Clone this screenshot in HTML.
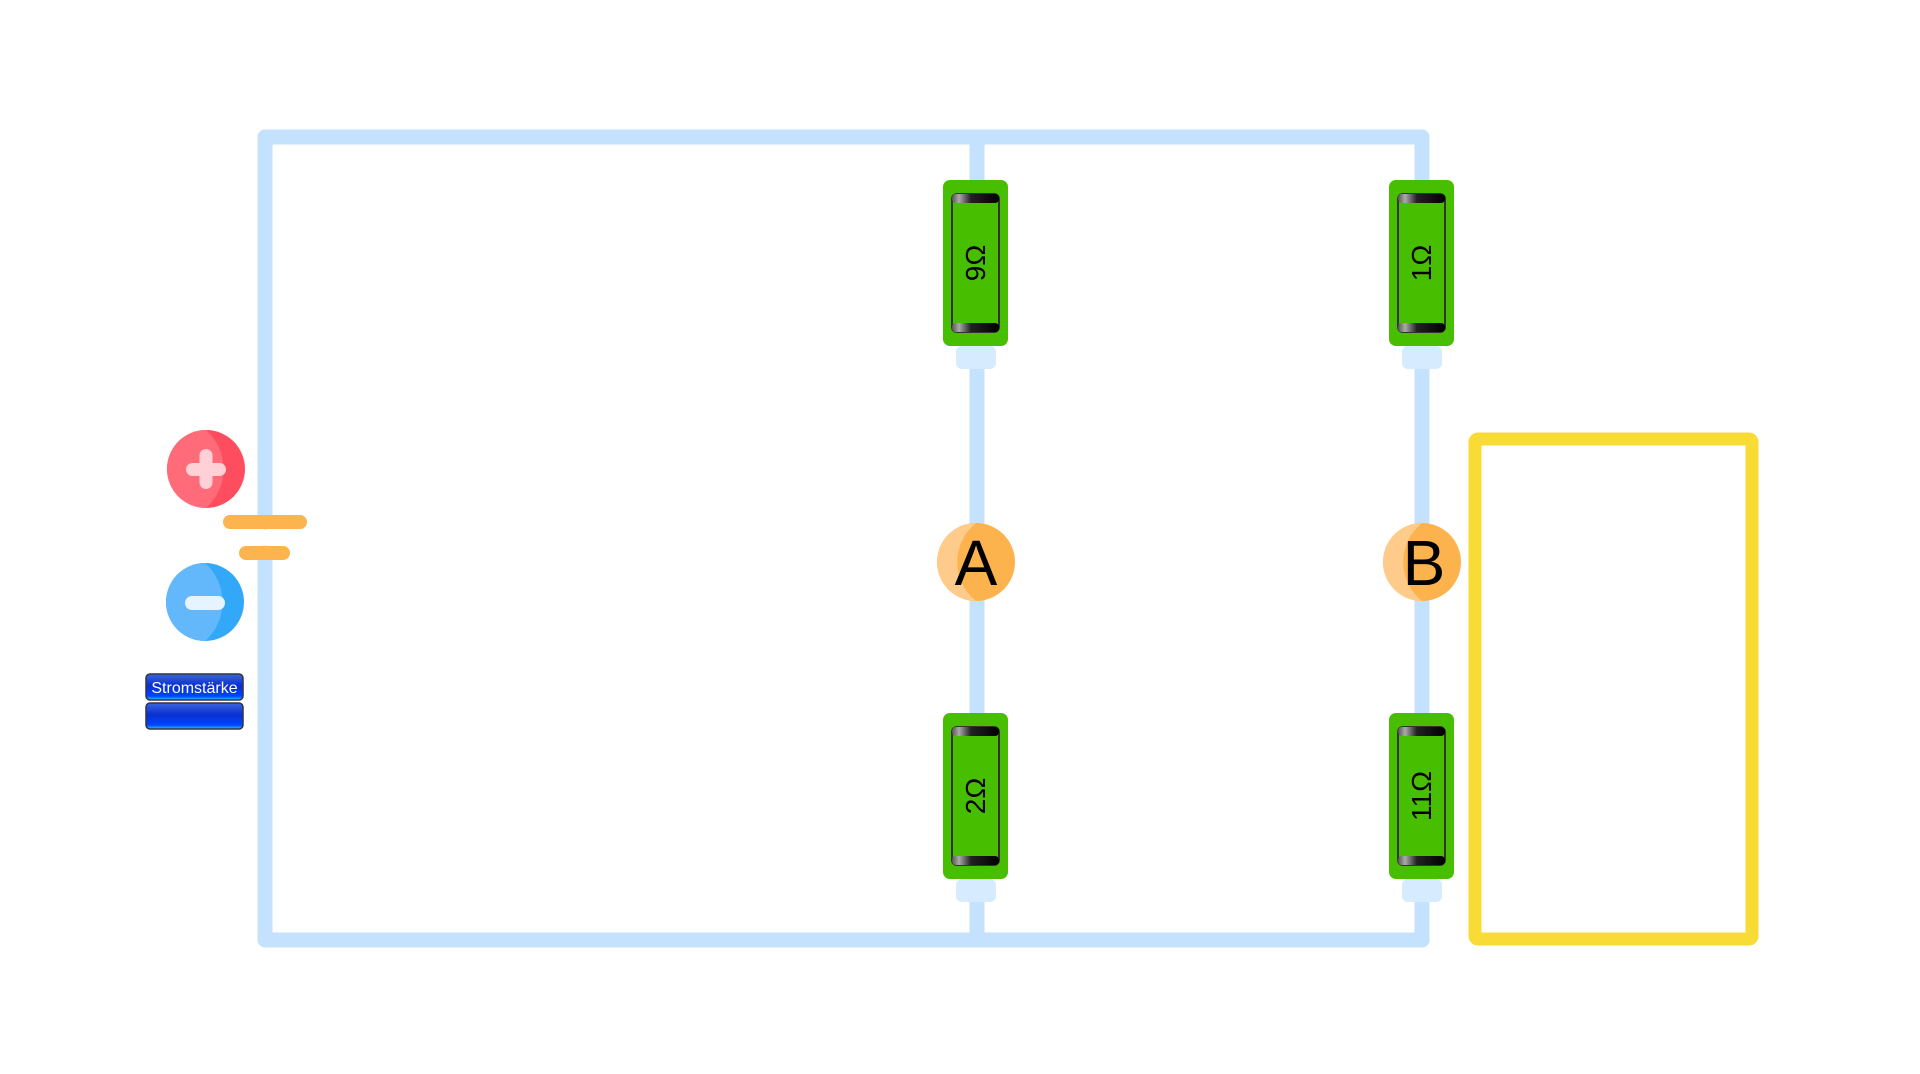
<!DOCTYPE html>
<html><head><meta charset="utf-8"><style>
html,body{margin:0;padding:0;background:#fff;width:1920px;height:1074px;overflow:hidden}
svg{display:block}
text{font-family:"Liberation Sans",sans-serif}
</style></head><body>
<svg width="1920" height="1074" viewBox="0 0 1920 1074">
<defs>
<linearGradient id="cap" x1="0" y1="0" x2="1" y2="0">
<stop offset="0" stop-color="#555"/><stop offset="0.15" stop-color="#aaa"/><stop offset="0.4" stop-color="#222"/><stop offset="1" stop-color="#000"/>
</linearGradient>
<linearGradient id="btn" x1="0" y1="0" x2="0" y2="1">
<stop offset="0" stop-color="#3a66e0"/><stop offset="0.45" stop-color="#0a2fd0"/><stop offset="0.85" stop-color="#0044ff"/><stop offset="1" stop-color="#22ccff"/>
</linearGradient>
</defs>
<g fill="none" stroke="#c4e1fd" stroke-width="15" stroke-linejoin="round" stroke-linecap="round">
<path d="M265 522 L265 137 L1422 137 L1422 182"/>
<path d="M265 553 L265 940 L1422 940 L1422 880"/>
<path d="M977 137 L977 940"/>
<path d="M1422 137 L1422 940"/>
</g>
<g>
<rect x="223" y="515" width="84" height="14" rx="7" fill="#fdb44e"/>
<rect x="239" y="546" width="51" height="14" rx="7" fill="#fdb44e"/>
</g>
<g>
<circle cx="206" cy="469" r="39" fill="#fe4d5f"/>
<path d="M206 430 A39 39 0 0 0 206 508 A52 52 0 0 0 206 430 Z" fill="#ff6b79"/>
<rect x="186" y="463" width="40" height="13" rx="6.5" fill="#ffd0d6"/>
<rect x="199.5" y="449" width="13" height="40" rx="6.5" fill="#ffd0d6"/>
</g>
<g>
<circle cx="205" cy="602" r="39" fill="#33a8f8"/>
<path d="M205 563 A39 39 0 0 0 205 641 A52 52 0 0 0 205 563 Z" fill="#63b8fb"/>
<rect x="185" y="596" width="40" height="14" rx="7" fill="#e6f4ff"/>
</g>
<g>
<rect x="146" y="674" width="97" height="26" rx="4" fill="url(#btn)" stroke="#334" stroke-width="1.5"/>
<text x="194.5" y="693" font-size="16" fill="#fff" text-anchor="middle">Stromstärke</text>
</g>
<g>
<rect x="146" y="703" width="97" height="26" rx="4" fill="url(#btn)" stroke="#334" stroke-width="1.5"/>
</g>
<g transform="translate(943,180)">
<rect x="0" y="0" width="65" height="166" rx="7" fill="#47be00"/>
<rect x="9" y="14" width="47" height="138" rx="5" fill="#47be00" stroke="#333" stroke-width="2"/>
<rect x="9" y="14" width="47" height="9" rx="4" fill="url(#cap)"/>
<rect x="9" y="143" width="47" height="9" rx="4" fill="url(#cap)"/>
<rect x="13" y="166" width="40" height="23" rx="6" fill="#d6ebfd"/>
<text transform="translate(42,83) rotate(-90)" font-size="28" text-anchor="middle" fill="#000">9Ω</text>
</g>
<g transform="translate(1389,180)">
<rect x="0" y="0" width="65" height="166" rx="7" fill="#47be00"/>
<rect x="9" y="14" width="47" height="138" rx="5" fill="#47be00" stroke="#333" stroke-width="2"/>
<rect x="9" y="14" width="47" height="9" rx="4" fill="url(#cap)"/>
<rect x="9" y="143" width="47" height="9" rx="4" fill="url(#cap)"/>
<rect x="13" y="166" width="40" height="23" rx="6" fill="#d6ebfd"/>
<text transform="translate(42,83) rotate(-90)" font-size="28" text-anchor="middle" fill="#000">1Ω</text>
</g>
<g transform="translate(943,713)">
<rect x="0" y="0" width="65" height="166" rx="7" fill="#47be00"/>
<rect x="9" y="14" width="47" height="138" rx="5" fill="#47be00" stroke="#333" stroke-width="2"/>
<rect x="9" y="14" width="47" height="9" rx="4" fill="url(#cap)"/>
<rect x="9" y="143" width="47" height="9" rx="4" fill="url(#cap)"/>
<rect x="13" y="166" width="40" height="23" rx="6" fill="#d6ebfd"/>
<text transform="translate(42,83) rotate(-90)" font-size="28" text-anchor="middle" fill="#000">2Ω</text>
</g>
<g transform="translate(1389,713)">
<rect x="0" y="0" width="65" height="166" rx="7" fill="#47be00"/>
<rect x="9" y="14" width="47" height="138" rx="5" fill="#47be00" stroke="#333" stroke-width="2"/>
<rect x="9" y="14" width="47" height="9" rx="4" fill="url(#cap)"/>
<rect x="9" y="143" width="47" height="9" rx="4" fill="url(#cap)"/>
<rect x="13" y="166" width="40" height="23" rx="6" fill="#d6ebfd"/>
<text transform="translate(42,83) rotate(-90)" font-size="28" text-anchor="middle" fill="#000">11Ω</text>
</g>
<g>
<circle cx="976" cy="562" r="39" fill="#fcb24d"/>
<path d="M976 523 A39 39 0 0 0 976 601 A50 50 0 0 1 976 523 Z" fill="#fecb8a"/>
<text x="976" y="585" font-size="64" text-anchor="middle" fill="#000">A</text>
</g>
<g>
<circle cx="1422" cy="562" r="39" fill="#fcb24d"/>
<path d="M1422 523 A39 39 0 0 0 1422 601 A50 50 0 0 1 1422 523 Z" fill="#fecb8a"/>
<text x="1424" y="585" font-size="64" text-anchor="middle" fill="#000">B</text>
</g>
<rect x="1475" y="439" width="277" height="500" rx="3" fill="none" stroke="#f9db35" stroke-width="13"/>
</svg>
</body></html>
